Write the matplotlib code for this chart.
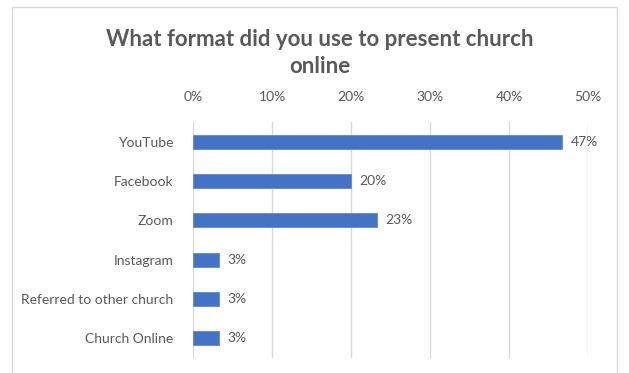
import matplotlib.pyplot as plt
import matplotlib
from matplotlib.patches import Rectangle
from matplotlib.ticker import PercentFormatter

matplotlib.rcParams['font.family'] = ['Lato', 'DejaVu Sans']

# data
platforms = ['YouTube', 'Facebook', 'Zoom', 'Instagram', 'Referred to other church', 'Church Online']
shares = [46.7, 20.0, 23.3, 3.3, 3.3, 3.3]
labels = ['47%', '20%', '23%', '3%', '3%', '3%']

grey = '#595959'
bar_color = '#4472c4'

fig = plt.figure(figsize=(6.29, 3.73), dpi=100)
ax = fig.add_axes([193 / 629, 1 - 358 / 373, (588 - 193) / 629, (358 - 122) / 373])

y = list(range(len(platforms)))
ax.barh(y, shares, height=0.36, color=bar_color, edgecolor='#5b8ad6', linewidth=0.6, zorder=3)
for yi, v, lab in zip(y, shares, labels):
    ax.text(v + 1.1, yi, lab, va='center', ha='left', fontsize=10, color=grey)

ax.set_xlim(0, 50)
ax.set_ylim(len(platforms) - 0.5, -0.5)
ax.set_xticks([0, 10, 20, 30, 40, 50])
ax.xaxis.set_major_formatter(PercentFormatter(decimals=0))
ax.xaxis.tick_top()
ax.tick_params(axis='x', length=0, pad=14, labelsize=10, labelcolor=grey)
ax.set_yticks(y)
ax.set_yticklabels(platforms)
ax.tick_params(axis='y', length=0, pad=14, labelsize=10, labelcolor=grey)
ax.grid(axis='x', color='#d9d9d9', linewidth=1, zorder=0)
for s in ax.spines.values():
    s.set_visible(False)

fig.text(320 / 629, 1 - 53 / 373, 'What format did you use to present church\nonline',
         ha='center', va='center', fontsize=16, fontweight='bold', color=grey, linespacing=1.3)

# chart frame
fig.patches.append(Rectangle((12 / 629, -0.05), (617 - 12) / 629, 1.05 - 7 / 373,
                             transform=fig.transFigure, fill=False, edgecolor='#d9d9d9', linewidth=1))

plt.savefig('out.png', dpi=100)
plt.close()
